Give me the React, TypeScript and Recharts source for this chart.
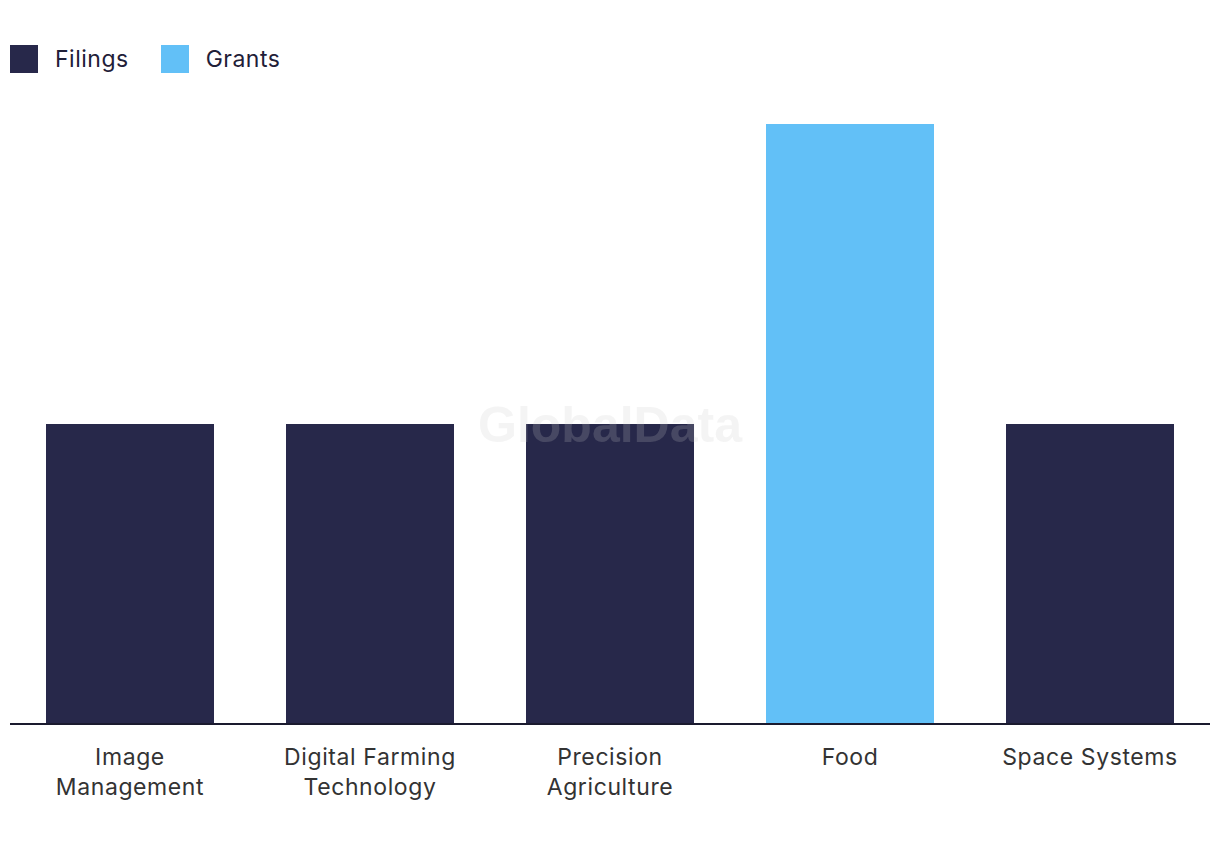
import { BarChart, Bar, XAxis, YAxis } from 'recharts'

const categories = ['Image Management', 'Digital Farming Technology', 'Precision Agriculture', 'Food', 'Space Systems']
const tickLines = [['Image', 'Management'], ['Digital Farming', 'Technology'], ['Precision', 'Agriculture'], ['Food'], ['Space Systems']]
const filings = [1, 1, 1, 0, 1]
const grants = [0, 0, 0, 2, 0]

const NAVY = '#27284a'
const BLUE = '#62c0f7'
const FONT = 'Inter, "Noto Sans", sans-serif'

const data = categories.map((name, i) => ({ name, filings: filings[i], grants: grants[i] }))

function Tick({ x, y, payload }: any) {
  const lines = tickLines[categories.indexOf(payload.value)] || [payload.value]
  return (
    <text x={x} y={y + 33} textAnchor="middle" fill="#333" fontSize={23} letterSpacing={0.6} fontFamily={FONT}>
      {lines.map((l, i) => (
        <tspan key={i} x={x} dy={i === 0 ? 0 : 30}>{l}</tspan>
      ))}
    </text>
  )
}

function LegendItem({ color, label }: { color: string; label: string }) {
  return (
    <div style={{ display: 'flex', alignItems: 'center', marginRight: 32 }}>
      <div style={{ width: 28, height: 28, background: color, marginRight: 17 }} />
      <span style={{ fontSize: 23, letterSpacing: 0.5, color: '#1f2038', fontFamily: FONT }}>{label}</span>
    </div>
  )
}

export default function App() {
  return (
    <div style={{ position: 'absolute', left: 0, top: 0, width: 1220, height: 850, background: '#fff' }}>
      <div style={{ position: 'absolute', left: 10, top: 45, display: 'flex' }}>
        <LegendItem color={NAVY} label="Filings" />
        <LegendItem color={BLUE} label="Grants" />
      </div>
      <BarChart width={1220} height={850} data={data} margin={{ top: 124, right: 10, left: 10, bottom: 0 }}>
        <XAxis
          dataKey="name"
          height={126}
          tick={<Tick />}
          tickLine={false}
          axisLine={{ stroke: '#1a1a2e', strokeWidth: 2 }}
          interval={0}
        />
        <YAxis hide domain={[0, 2]} />
        <Bar dataKey="filings" stackId="a" fill={NAVY} barSize={168} isAnimationActive={false} />
        <Bar dataKey="grants" stackId="a" fill={BLUE} barSize={168} isAnimationActive={false} />
      </BarChart>
      <div
        style={{
          position: 'absolute',
          left: 0,
          width: 1220,
          top: 396,
          textAlign: 'center',
          fontFamily: '"Liberation Sans", Arial, sans-serif',
          fontWeight: 'bold',
          fontSize: 50,
          color: 'rgba(200,200,200,0.2)',
          pointerEvents: 'none',
        }}
      >
        GlobalData
      </div>
    </div>
  )
}
